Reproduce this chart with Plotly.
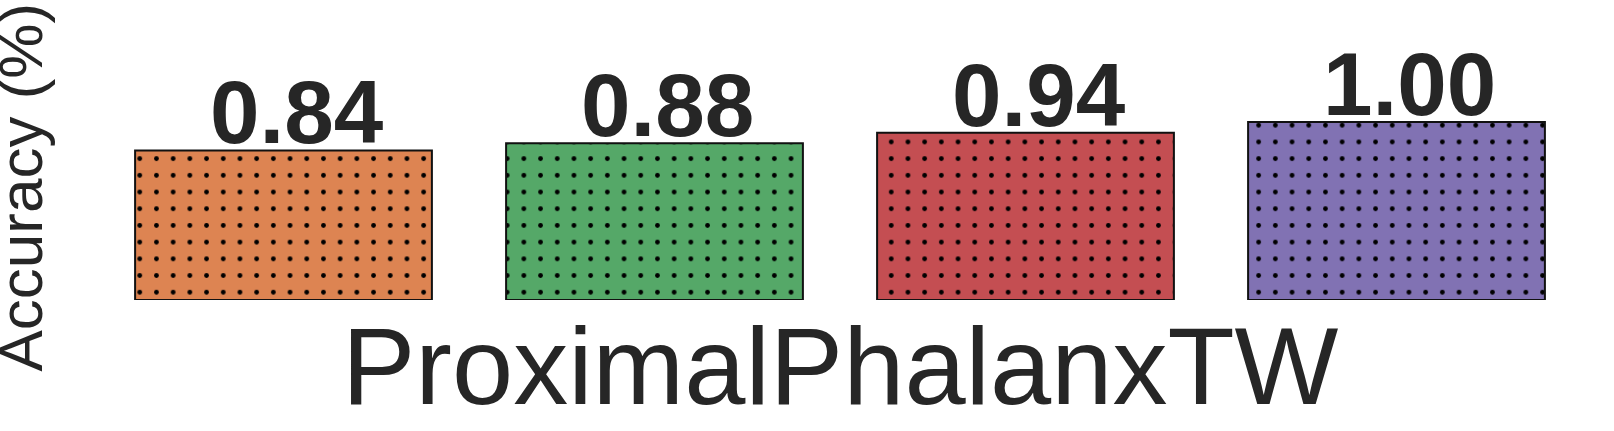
import plotly.graph_objects as go

methods = ["M1", "M2", "M3", "M4"]
accuracy = [0.84, 0.88, 0.94, 1.00]
labels = ["0.84", "0.88", "0.94", "1.00"]
colors = ["#DD8452", "#55A868", "#C44E52", "#8172B3"]
dataset = "ProximalPhalanxTW"
ytitle = "Accuracy (%)"

W, H = 1614, 431
ML, MR, MT, MB = 98, 32, 0, 131
YMAX = 1.685
TXT = "#262626"

fig = go.Figure()
for m, v, c in zip(methods, accuracy, colors):
    fig.add_trace(go.Bar(
        x=[m], y=[v],
        marker=dict(
            color=c,
            line=dict(color="#111111", width=2),
            pattern=dict(shape=".", fgcolor="#000000", fgopacity=1,
                         size=16.7, solidity=0.065, fillmode="overlay"),
        ),
        showlegend=False,
    ))

for m, v, t in zip(methods, accuracy, labels):
    fig.add_annotation(x=m, y=v, xref="x", yref="y", text=f"<b>{t}</b>",
                       showarrow=False, yanchor="bottom", xanchor="center",
                       xshift=13, yshift=-14,
                       font=dict(family="Liberation Sans, Arial", size=89, color=TXT))

fig.add_annotation(x=0.5, y=0, xref="paper", yref="paper", text=dataset,
                   showarrow=False, xanchor="center", yanchor="top", yshift=-2,
                   font=dict(family="Liberation Sans, Arial", size=110, color=TXT))

fig.add_annotation(x=0, y=0.375, xref="paper", yref="paper", text=ytitle,
                   showarrow=False, xanchor="center", yanchor="middle", textangle=-90,
                   xshift=-78, font=dict(family="Liberation Sans, Arial", size=62, color=TXT))

fig.update_layout(
    width=W, height=H,
    margin=dict(l=ML, r=MR, t=MT, b=MB, pad=0),
    paper_bgcolor="white", plot_bgcolor="white",
    barmode="overlay",
    bargap=0.2,
    xaxis=dict(range=[-0.5, 3.5], showticklabels=False, showgrid=False, zeroline=False,
               showline=False, ticks="", categoryorder="array", categoryarray=methods),
    yaxis=dict(range=[0, YMAX], showticklabels=False, showgrid=False, zeroline=False,
               showline=False, ticks=""),
)

fig.write_html("out.html", config={"displayModeBar": False},
               post_script="document.body.style.margin='0';document.body.style.overflow='hidden';")
